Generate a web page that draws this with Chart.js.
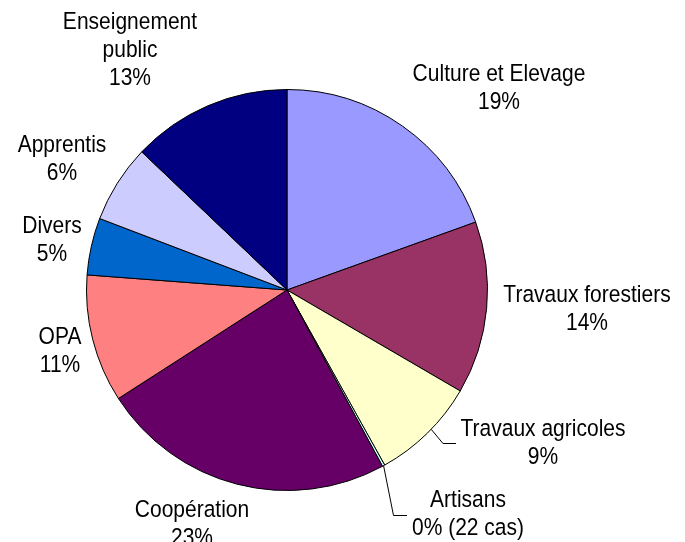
<!DOCTYPE html>
<html>
<head>
<meta charset="utf-8">
<script src="https://cdn.jsdelivr.net/npm/chart.js@4"></script>
<style>
html,body{margin:0;padding:0;background:#fff;}
#wrap{width:685px;height:542px;position:relative;}
</style>
</head>
<body>
<div id="wrap"><canvas id="c" width="685" height="542"></canvas></div>
<script>
// Data (clockwise from 12 o'clock)
const categories = ["Culture et Elevage", "Travaux forestiers", "Travaux agricoles", "Artisans", "Coopération", "OPA", "Divers", "Apprentis", "Enseignement public"];
const shares = [19.5, 13.9, 8.5, 0.2, 23.8, 10.3, 4.6, 6.3, 12.9];
const pctLabels = ["19%", "14%", "9%", "0% (22 cas)", "23%", "11%", "5%", "6%", "13%"];
const labelLines = [["Culture et Elevage"], ["Travaux forestiers"], ["Travaux agricoles"], ["Artisans"], ["Coopération"], ["OPA"], ["Divers"], ["Apprentis"], ["Enseignement", "public"]];
const colors = ["#9999FF", "#993366", "#FFFFCC", "#CCFFFF", "#660066", "#FF8080", "#0066CC", "#CCCCFF", "#000080"];

// label layout (center x, first-line y)
const labelPos = [[499, 74], [587, 295], [543, 429], [468, 500], [192, 510], [60, 337], [52, 226], [62, 145], [130, 22]];

const labelPlugin = {
  id: 'pieLabels',
  afterDatasetsDraw(chart) {
    const ctx = chart.ctx;
    const meta = chart.getDatasetMeta(0);
    ctx.save();
    // leader lines
    ctx.strokeStyle = '#000';
    ctx.lineWidth = 1;
    const leaders = [
      {i: 2, frac: 0.45, pts: [[443, 443.5], [456, 443.5]]},
      {i: 3, frac: 0.5, pts: [[393.5, 515.5], [407, 515.5]]}
    ];
    leaders.forEach(l => {
      const a = meta.data[l.i];
      const ang = a.startAngle + (a.endAngle - a.startAngle) * l.frac;
      const sx = a.x + Math.cos(ang) * a.outerRadius;
      const sy = a.y + Math.sin(ang) * a.outerRadius;
      ctx.beginPath();
      ctx.moveTo(sx, sy);
      l.pts.forEach(p => ctx.lineTo(p[0], p[1]));
      ctx.stroke();
    });
    ctx.fillStyle = '#000';
    ctx.font = '21px "Liberation Sans", Arial, sans-serif';
    ctx.textAlign = 'center';
    ctx.textBaseline = 'middle';
    const lh = 28;
    categories.forEach((c, i) => {
      const lines = labelLines[i].concat([pctLabels[i]]);
      const [x, y] = labelPos[i];
      lines.forEach((t, k) => {
        ctx.save();
        ctx.translate(x, y + k * lh);
        ctx.scale(1, 1.17);
        ctx.fillText(t, 0, 0);
        ctx.restore();
      });
    });
    ctx.restore();
  }
};

new Chart(document.getElementById('c'), {
  type: 'pie',
  data: {
    labels: categories,
    datasets: [{
      data: shares,
      backgroundColor: colors,
      borderColor: '#000',
      borderWidth: 1
    }]
  },
  options: {
    responsive: false,
    animation: false,
    layout: {padding: {left: 86, top: 89, right: 197, bottom: 51}},
    plugins: {legend: {display: false}, tooltip: {enabled: false}}
  },
  plugins: [labelPlugin]
});
</script>
</body>
</html>
